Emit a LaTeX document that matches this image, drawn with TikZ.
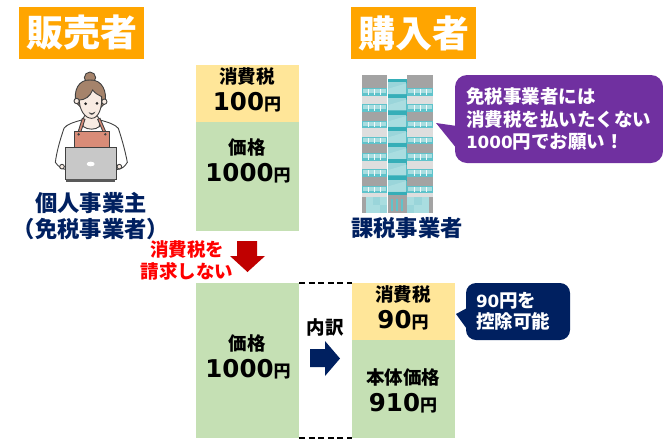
\documentclass[tikz,border=0pt]{standalone}
\usepackage{fontspec}
\setmainfont{Noto Sans CJK JP}
\newfontfamily\numfont{DejaVu Sans}
\usetikzlibrary{calc}
\definecolor{hdr}{HTML}{FFA500}
\definecolor{taxy}{HTML}{FFE699}
\definecolor{priceg}{HTML}{C5E0B4}
\definecolor{navyc}{HTML}{002060}
\definecolor{purp}{HTML}{7030A0}
\definecolor{darkred}{HTML}{C00000}
\definecolor{hair}{HTML}{A5836B}
\definecolor{skin}{HTML}{F8EBE2}
\definecolor{apron}{HTML}{D98C78}
\definecolor{lapg}{HTML}{C8C8C8}
\definecolor{bgray}{HTML}{A3A3A3}
\definecolor{blight}{HTML}{DEDEDE}
\definecolor{tealm}{HTML}{5FC3CB}
\definecolor{teald}{HTML}{35AEB8}
\definecolor{teall}{HTML}{9AD5DA}
\definecolor{tealp}{HTML}{A9DDE0}
\newcommand{\amt}[1]{{\numfont\bfseries\fontsize{24.5}{24.5}\selectfont #1}{\bfseries\fontsize{17}{17}\selectfont 円}}
\newcommand{\dig}[1]{{\numfont\bfseries\fontsize{16.8}{16.8}\selectfont #1}}
\tikzset{
  panel/.style={anchor=north west,inner sep=0pt,outer sep=0pt},
  hdrbox/.style={panel,fill=hdr,minimum width=125pt,minimum height=52pt,text=white,font=\bfseries\fontsize{37}{37}\selectfont},
  taxbox/.style={panel,fill=taxy,minimum width=103pt,minimum height=57pt},
  greenbox/.style={panel,fill=priceg,minimum width=103pt},
  lab/.style={inner sep=0pt,font=\bfseries\fontsize{18.5}{18.5}\selectfont,text=black},
  who/.style={inner sep=0pt,font=\bfseries\fontsize{22.3}{22.3}\selectfont,text=navyc},
  dashlink/.style={line width=1.5pt,dash pattern=on 6pt off 3.6pt,black},
  bubble/.style={panel,rounded corners=12pt,text=white,align=left,font=\bfseries\fontsize{18.5}{22.6}\selectfont},
}
\begin{document}
\begin{tikzpicture}[x=1pt,y=-1pt]
\useasboundingbox (0,0) rectangle (663,440);
% headers
\node[hdrbox] (hs) at (19,7) {販売者};
\node[hdrbox] (hb) at (351,7) {購入者};
% upper stack
\node[taxbox] (t1) at (196,65) {};
\node[greenbox,minimum height=109pt] (g1) at (196,122) {};
\node[lab] (t1a) at (247,76) {消費税};
\node[lab] (t1b) at (247,102) {\amt{100}};
\node[lab] (g1a) at (247,147) {価格};
\node[lab] (g1b) at (248,173) {\amt{1000}};
% lower stacks
\node[greenbox,minimum height=155pt] (g2) at (196,283) {};
\node[lab] (g2a) at (247,343) {価格};
\node[lab] (g2b) at (248,369) {\amt{1000}};
\node[taxbox] (t3) at (352,283) {};
\node[greenbox,minimum height=98pt] (g3) at (352,340) {};
\node[lab] (t3a) at (403,294) {消費税};
\node[lab] (t3b) at (403,320) {\amt{90}};
\node[lab] (g3a) at (403,377) {本体価格};
\node[lab] (g3b) at (403,403) {\amt{910}};
% dashed links
\draw[dashlink] (g2.north east) -- (t3.north west);
\draw[dashlink] (g2.south east) -- (g3.south west);
\node[lab] (uchi) at (325,327) {内訳};
% arrows
\fill[darkred] (237,241) -- (257,241) -- (257,256) -- (265,256) -- (247.5,272) -- (230,256) -- (237,256) -- cycle;
\fill[navyc] (310,349) -- (325,349) -- (325,341) -- (340,358.5) -- (325,376) -- (325,367) -- (310,367) -- cycle;
\node[lab,text=red,align=center,font=\bfseries\fontsize{18.5}{22}\selectfont] (nobill) at (187,260) {消費税を\\請求しない};
% who labels
\node[who,align=center,font=\bfseries\fontsize{22.3}{26}\selectfont] (seller) at (91,216) {個人事業主\\（免税事業者）};
\node[who] (buyer) at (407,228) {課税事業者};
% purple bubble
\node[bubble,fill=purp,minimum width=208pt,minimum height=88pt,text width=186pt,inner xsep=11pt] (pb) at (455,75) {\raisebox{1pt}{免税事業者には}\\\raisebox{1pt}{消費税を払いたくない}\\\raisebox{1pt}{\dig{1000}円でお願い！}};
\coordinate (ptip) at (436,123);
\fill[purp] (ptip) -- ($(pb.west)+(2,7)$) -- ($(pb.west)+(2,30)$) -- cycle;
% navy bubble
\node[bubble,fill=navyc,rounded corners=10pt,minimum width=104pt,minimum height=57pt,text width=84pt,inner xsep=10pt,font=\bfseries\fontsize{18.5}{21}\selectfont] (nb) at (466,283) {\raisebox{1pt}{\dig{90}円を}\\\raisebox{1pt}{控除可能}};
\coordinate (ntip) at (456,314);
\fill[navyc] (ntip) -- ($(nb.west)+(2,-4)$) -- ($(nb.west)+(2,19)$) -- cycle;
% woman (zoom-based coordinates)
\begin{scope}[shift={(50,65)},x=0.3333pt,y=-0.3333pt,line width=0.9pt,draw=black!75]
\filldraw[fill=hair] (120,38) circle[radius=17];
\filldraw[fill=white] (95,165) .. controls (70,172) and (50,178) .. (42,190) .. controls (30,225) and (20,260) .. (16,292) .. controls (25,305) and (35,312) .. (50,314) -- (200,314) .. controls (215,312) and (225,305) .. (232,292) .. controls (225,255) and (215,220) .. (205,190) .. controls (195,178) and (175,172) .. (150,165) -- cycle;
\filldraw[fill=skin] (97,165) -- (100,185) .. controls (115,195) and (135,195) .. (148,185) -- (150,165) -- (140,150) -- (105,150) -- cycle;
\filldraw[fill=hair] (78,112) .. controls (70,78) and (85,43) .. (120,45) .. controls (157,43) and (172,80) .. (165,115) -- (150,130) -- (95,130) -- cycle;
\filldraw[fill=skin] (80,108) circle[radius=8];
\filldraw[fill=skin] (163,110) circle[radius=8];
\filldraw[fill=skin] (88,105) .. controls (88,135) and (105,160) .. (125,160) .. controls (145,160) and (157,130) .. (155,95) .. controls (145,90) and (135,85) .. (128,75) .. controls (120,95) and (105,105) .. (88,105) -- cycle;
\fill[black!85] (107,116) circle[radius=4.5];
\fill[black!85] (141,115) circle[radius=4.5];
\fill[black!70] (116,142) .. controls (122,146) and (130,146) .. (136,140) .. controls (132,152) and (120,152) .. (116,142) -- cycle;
\filldraw[fill=apron] (97,160) -- (84,202) -- (92,202) -- (105,163) -- cycle;
\filldraw[fill=apron] (150,160) -- (168,202) -- (160,202) -- (143,163) -- cycle;
\filldraw[fill=apron] (73,200) rectangle (178,250);
\fill[black!75] (86,208) circle[radius=4];
\fill[black!75] (166,208) circle[radius=4];
\filldraw[fill=skin] (36,305) circle[radius=7];
\filldraw[fill=skin] (208,305) circle[radius=7];
\filldraw[fill=lapg] (47,247) rectangle (200,342);
\fill[black!65] (48,342) rectangle (195,350);
\fill[white] (122,297) ellipse[x radius=12,y radius=7];
\end{scope}
% building (zoom-based coordinates)
\begin{scope}[shift={(355,70)},x=0.3333pt,y=-0.3333pt]
\fill[blight] (22,16) rectangle (97,382);
\fill[blight] (157,16) rectangle (234,382);
\foreach \y in {125,222,320} {
  \fill[bgray] (22,\y) rectangle (97,\y+27);
  \fill[bgray] (157,\y) rectangle (234,\y+27);
}
\fill[bgray] (22,16) rectangle (97,54);
\fill[bgray] (157,16) rectangle (234,54);
\foreach \y in {54,103,152,200,249,298,347} {
  \foreach \xa/\xb in {22/97,157/234} {
    \fill[tealm] (\xa,\y) rectangle (\xb,\y+23);
    \fill[tealp] (\xa+3,\y+3) rectangle (\xb-3,\y+15);
  }
  \foreach \x in {40,58,76,176,195,214} {\fill[white!85!tealp] (\x,\y+3) rectangle (\x+2.5,\y+20);}
}
\fill[teald] (98,28) rectangle (156,376);
\foreach \y in {36,85,134,182,231,280,329} {
  \fill[teall] (100,\y) rectangle (154,\y+36);
  \fill[tealp] (100,\y+20) -- (154,\y+4) -- (154,\y+36) -- (100,\y+36) -- cycle;
}
\fill[bgray] (22,382) rectangle (34,430);
\fill[bgray] (222,382) rectangle (234,430);
\fill[tealp] (34,382) rectangle (97,430);
\fill[tealp] (157,382) rectangle (222,430);
\fill[teall] (55,382) rectangle (76,406);
\fill[teall] (76,406) rectangle (97,430);
\fill[teall] (157,406) rectangle (178,430);
\fill[teall] (178,382) rectangle (200,406);
\fill[bgray] (98,376) rectangle (156,430);
\foreach \x in {109,124,139} {\fill[tealm] (\x,388) rectangle (\x+5,424);}
\end{scope}
\end{tikzpicture}
\end{document}
